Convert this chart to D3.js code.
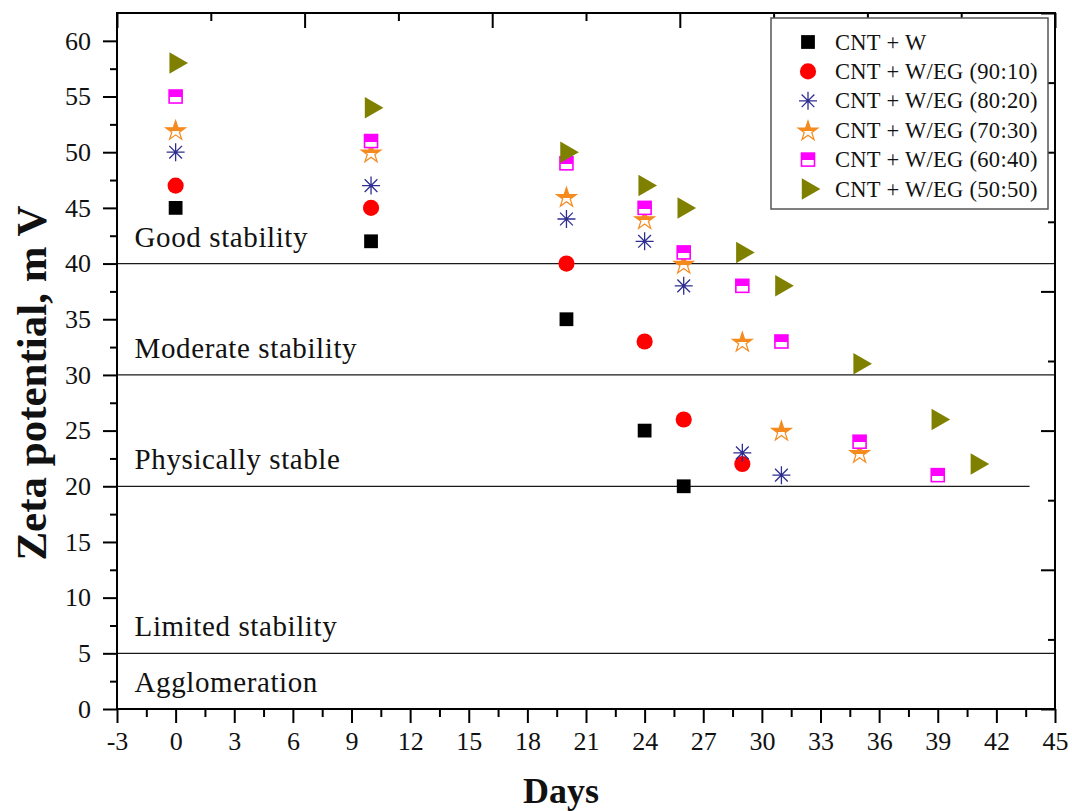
<!DOCTYPE html>
<html>
<head>
<meta charset="utf-8">
<script src="https://cdn.jsdelivr.net/npm/d3@7"></script>
<style>
  html, body { margin: 0; padding: 0; background: #fff; }
  svg { display: block; }
  svg text { font-family: "Liberation Serif", "Times New Roman", serif; }
</style>
</head>
<body>
<svg id="chart" width="1072" height="811"></svg>
<script>
// Sampling days shared by all series (each series uses the first n of them)
const days = [0, 10, 20, 24, 26, 29, 31, 35, 39, 41];

// Zeta potential (mV) for each fluid
const seriesNames = [
  "CNT + W",
  "CNT + W/EG (90:10)",
  "CNT + W/EG (80:20)",
  "CNT + W/EG (70:30)",
  "CNT + W/EG (60:40)",
  "CNT + W/EG (50:50)"
];
const zetaW     = [45, 42, 35, 25, 20];
const zeta9010  = [47, 45, 40, 33, 26, 22];
const zeta8020  = [50, 47, 44, 42, 38, 23, 21];
const zeta7030  = [52, 50, 46, 44, 40, 33, 25, 23];
const zeta6040  = [55, 51, 49, 45, 41, 38, 33, 24, 21];
const zeta5050  = [58, 54, 50, 47, 45, 41, 38, 31, 26, 22];

// Stability bands: label and lower bound (mV)
const bandLabels = ["Good stability", "Moderate stability", "Physically stable", "Limited stability", "Agglomeration"];
const bandLower  = [40, 30, 20, 5, 0];
const bandLineEnd = [45, 45, 43.7, 45];   // right end (days) of each boundary line

// Axis tick values
const xTicks = d3.range(-3, 45.001, 3);
const xMinor = d3.range(-1.5, 45, 3);
const yTicks = d3.range(0, 60.001, 5);
const yMinor = d3.range(2.5, 62.5, 5);

const svg = d3.select("#chart");
const x = d3.scaleLinear().domain([-3, 45]).range([117, 1055]);
const y = d3.scaleLinear().domain([0, 62.5]).range([709, 13]);
// mirror axes (top / right) carry their own evenly spaced ticks
const xMirror = d3.scaleLinear().domain([0, 10]).range(x.range());
const yMirror = d3.scaleLinear().domain([0, 10]).range(y.range());

const series = [
  { name: seriesNames[0], values: zetaW,    shape: "square",  color: "#000000" },
  { name: seriesNames[1], values: zeta9010, shape: "circle",  color: "#ff0000" },
  { name: seriesNames[2], values: zeta8020, shape: "asterisk",color: "#2e2e90" },
  { name: seriesNames[3], values: zeta7030, shape: "star",    color: "#f58a1f" },
  { name: seriesNames[4], values: zeta6040, shape: "halfsq",  color: "#ff00ff" },
  { name: seriesNames[5], values: zeta5050, shape: "tri",     color: "#808000" }
];

const serif = "'Liberation Serif', 'Times New Roman', serif";

// gradients for half-filled markers
const defs = svg.append("defs");
function halfGrad(id, color, stop) {
  const g = defs.append("linearGradient").attr("id", id)
    .attr("x1", 0).attr("y1", 0).attr("x2", 0).attr("y2", 1);
  g.append("stop").attr("offset", stop).attr("stop-color", color);
  g.append("stop").attr("offset", stop).attr("stop-color", "#fff");
  g.append("stop").attr("offset", 1).attr("stop-color", "#fff");
}
halfGrad("halfStar", "#f58a1f", "0.55");
halfGrad("halfSq", "#ff00ff", "0.55");

const asteriskPath = (() => {
  const p = d3.path(), r = 9, d = r * Math.SQRT1_2;
  p.moveTo(0, -r); p.lineTo(0, r);
  p.moveTo(-r, 0); p.lineTo(r, 0);
  p.moveTo(-d, -d); p.lineTo(d, d);
  p.moveTo(-d, d); p.lineTo(d, -d);
  return p.toString();
})();

function drawMarker(sel, s) {
  switch (s.shape) {
    case "square":
      sel.append("path").attr("d", d3.symbol(d3.symbolSquare, 190)()).attr("fill", s.color);
      break;
    case "circle":
      sel.append("path").attr("d", d3.symbol(d3.symbolCircle, 205)()).attr("fill", s.color);
      break;
    case "asterisk":
      sel.append("path").attr("d", asteriskPath).attr("fill", "none")
        .attr("stroke", s.color).attr("stroke-width", 1.3);
      break;
    case "star":
      sel.append("path").attr("d", d3.symbol(d3.symbolStar, 120)()).attr("transform", "translate(0,1)")
        .attr("fill", "url(#halfStar)").attr("stroke", s.color).attr("stroke-width", 1.2);
      break;
    case "halfsq":
      sel.append("rect").attr("x", -6.5).attr("y", -6.5).attr("width", 13).attr("height", 13)
        .attr("fill", "url(#halfSq)").attr("stroke", s.color).attr("stroke-width", 1.6);
      break;
    case "tri":
      sel.append("path").attr("d", d3.symbol(d3.symbolTriangle, 200)())
        .attr("transform", "rotate(90)").attr("fill", s.color);
      break;
  }
}

// stability band boundaries
svg.append("g").selectAll("line").data(bandLower.slice(0, 4)).join("line")
  .attr("x1", x(-3)).attr("x2", (d, i) => x(bandLineEnd[i]))
  .attr("y1", d => y(d)).attr("y2", d => y(d))
  .attr("stroke", "#1a1a1a").attr("stroke-width", 1.3);

// band labels
svg.append("g").selectAll("text").data(bandLabels).join("text")
  .attr("x", x(-2.1))
  .attr("y", (d, i) => y(bandLower[i]) - 17)
  .attr("font-size", 29).attr("fill", "#111")
  .style("letter-spacing", "0.6px")
  .text(d => d);

// data markers
series.forEach(s => {
  const g = svg.append("g");
  s.values.forEach((v, i) => {
    const m = g.append("g").attr("transform", `translate(${x(days[i])},${y(v)})`);
    drawMarker(m, s);
  });
});

// axes
const axisStyle = g => {
  g.attr("font-family", serif);
  g.select(".domain").remove();
  g.selectAll("line").attr("stroke", "#000").attr("stroke-width", 2);
  g.selectAll("text").style("font-family", serif)
    .attr("font-size", 26).attr("fill", "#111");
};
const plain = d => String(d);

svg.append("g").attr("transform", `translate(0,${y(0)})`)
  .call(d3.axisBottom(x).tickValues(xTicks).tickFormat(plain).tickSize(14).tickPadding(9))
  .call(axisStyle);
svg.append("g").attr("transform", `translate(0,${y(0)})`)
  .call(d3.axisBottom(x).tickValues(xMinor).tickFormat("").tickSize(8))
  .call(axisStyle);

svg.append("g").attr("transform", `translate(${x(-3)},0)`)
  .call(d3.axisLeft(y).tickValues(yTicks).tickFormat(plain).tickSize(14).tickPadding(12))
  .call(axisStyle);
svg.append("g").attr("transform", `translate(${x(-3)},0)`)
  .call(d3.axisLeft(y).tickValues(yMinor).tickFormat("").tickSize(7))
  .call(axisStyle);

// mirror ticks on top and right, pointing inward
const mirrorMajor = d3.range(0, 10.001, 2);
const mirrorMinor = d3.range(1, 10, 2);
svg.append("g").attr("transform", `translate(0,${y.range()[1]})`)
  .call(d3.axisBottom(xMirror).tickValues(mirrorMajor).tickFormat("").tickSize(15)).call(axisStyle);
svg.append("g").attr("transform", `translate(0,${y.range()[1]})`)
  .call(d3.axisBottom(xMirror).tickValues(mirrorMinor).tickFormat("").tickSize(8)).call(axisStyle);
svg.append("g").attr("transform", `translate(${x.range()[1]},0)`)
  .call(d3.axisLeft(yMirror).tickValues(mirrorMajor).tickFormat("").tickSize(14)).call(axisStyle);
svg.append("g").attr("transform", `translate(${x.range()[1]},0)`)
  .call(d3.axisLeft(yMirror).tickValues(mirrorMinor).tickFormat("").tickSize(7)).call(axisStyle);

// frame
svg.append("rect")
  .attr("x", x.range()[0]).attr("y", y.range()[1])
  .attr("width", x.range()[1] - x.range()[0]).attr("height", y.range()[0] - y.range()[1])
  .attr("fill", "none").attr("stroke", "#000").attr("stroke-width", 2);

// axis titles
svg.append("text").attr("x", 561).attr("y", 803).attr("text-anchor", "middle")
  .attr("font-size", 36).attr("font-weight", "bold").attr("fill", "#111").text("Days");
svg.append("text").attr("transform", "translate(46,383) rotate(-90)").attr("text-anchor", "middle")
  .attr("font-size", 43).attr("font-weight", "bold").attr("fill", "#111").text("Zeta potential, m V");

// legend
const legend = svg.append("g");
legend.append("rect").attr("x", 771).attr("y", 18).attr("width", 277).attr("height", 191)
  .attr("fill", "#fff").attr("stroke", "#555").attr("stroke-width", 1.5);
series.forEach((s, i) => {
  const row = legend.append("g").attr("transform", `translate(0,${42 + i * 29.4})`);
  drawMarker(row.append("g").attr("transform", "translate(808,0)"), s);
  row.append("text").attr("x", 835).attr("y", 7.5).attr("font-size", 22.5)
    .style("letter-spacing", "0.3px").attr("fill", "#111").text(s.name);
});
</script>
</body>
</html>
